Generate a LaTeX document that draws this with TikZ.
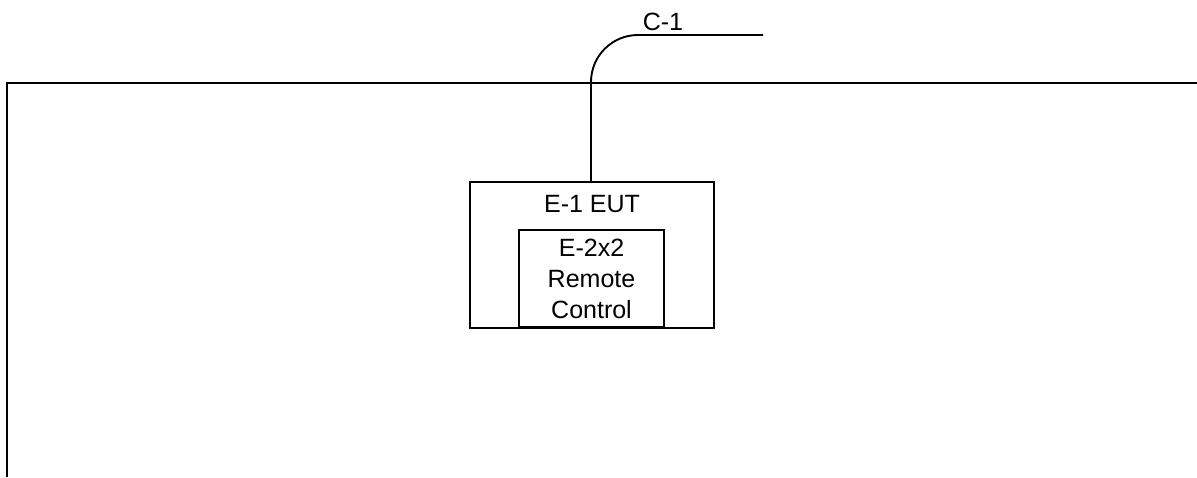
\documentclass[tikz,border=0pt]{standalone}
\usepackage{fontspec}
\setmainfont{Liberation Sans}
\usetikzlibrary{positioning}

\tikzset{
    wire/.style={line width=1.9pt},
    unitbox/.style={draw, line width=1.9pt, inner sep=0pt},
}

\begin{document}
\begin{tikzpicture}[x=1pt, y=-1pt, font=\fontsize{25}{31}\selectfont]
    \useasboundingbox (0,0) rectangle (1197,477);
    % test area frame (open at the bottom)
    \draw[wire] (7,477) -- (7,83) -- (1197,83);
    % equipment under test with its remote control inside
    \node[unitbox, minimum width=244pt, minimum height=146pt,
          label={[anchor=north, inner sep=0pt, yshift=-14pt]north:E-1 EUT}]
        (eut) at (592,255) {};
    \node[unitbox, minimum width=145pt, minimum height=97pt, align=center,
          anchor=south] (remote) at (591.5,328) {E-2x2\\Remote\\Control};
    % cable leaving the frame
    \coordinate (cend) at (763,35);
    \draw[wire, rounded corners=47pt] (eut.north -| 591,0) |- (cend);
    \node[anchor=base, inner sep=0pt] (c1) at (663,30) {C-1};
\end{tikzpicture}
\end{document}
